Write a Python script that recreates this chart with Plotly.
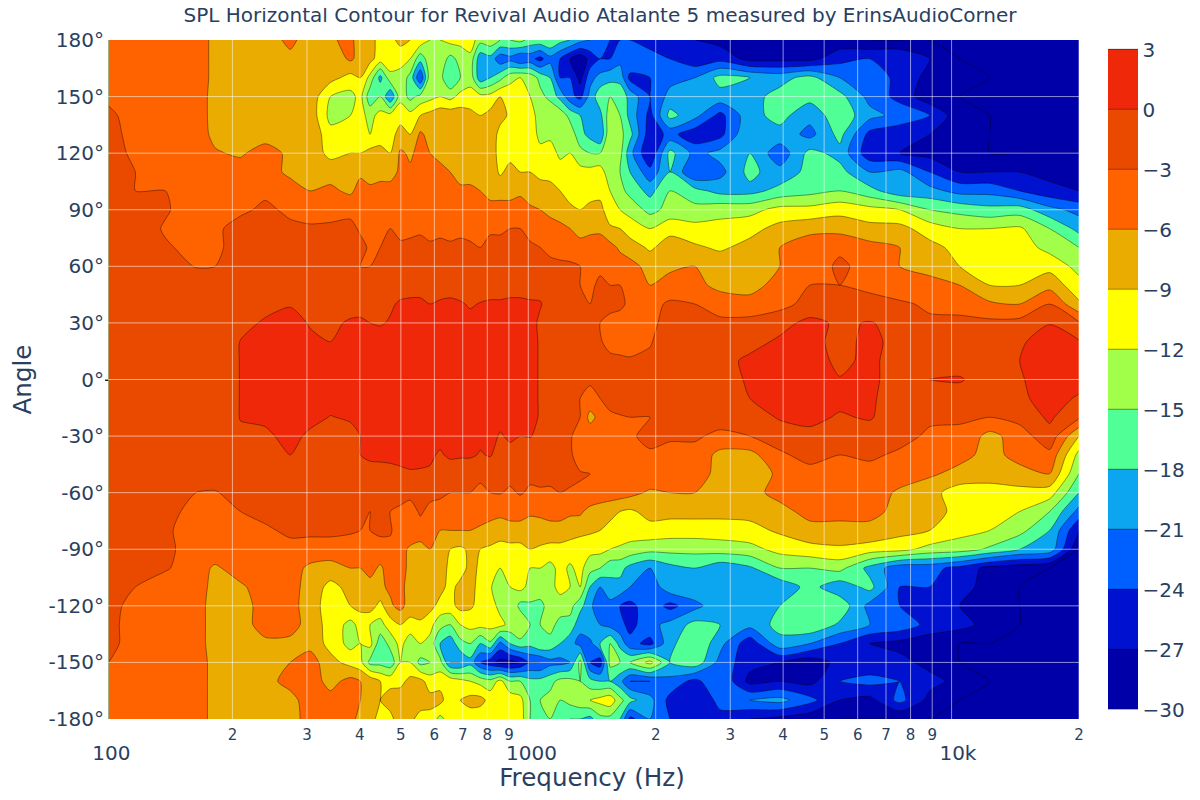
import plotly.graph_objects as go

title_text = "SPL Horizontal Contour for Revival Audio Atalante 5 measured by ErinsAudioCorner"
freq_hz = [102, 118, 139, 164, 182, 209, 239, 274, 305, 341, 380, 423, 472, 526, 586, 654, 729, 813, 906, 1010, 1126, 1255,
           1399, 1560, 1739, 1939, 2161, 2476, 2837, 3338, 3929, 4625, 5443, 6408, 7542, 8877, 10449, 12300, 14478, 17041, 20000]
freq_hz_mid = [401, 447, 499, 556, 619, 691, 770, 858, 957, 1067, 1189, 1326, 1478, 1647]
angles = [180, 170, 160, 150, 140, 130, 120, 110, 100, 90, 80, 70, 60, 50, 40, 30, 20, 10, 0,
          -10, -20, -30, -40, -50, -60, -70, -80, -90, -100, -110, -120, -130, -140, -150, -160, -170, -180]
levels = [-30, -27, -24, -21, -18, -15, -12, -9, -6, -3, 0, 3]
band_colors = ["rgb(0,0,168)", "rgb(0,18,208)", "rgb(0,95,255)", "rgb(12,165,240)", "rgb(80,255,150)", "rgb(161,255,74)",
               "rgb(255,255,0)", "rgb(234,172,0)", "rgb(255,99,0)", "rgb(234,74,0)", "rgb(240,40,10)"]
x_tick_vals = [100, 200, 300, 400, 500, 600, 700, 800, 900, 1000, 2000, 3000, 4000, 5000, 6000, 7000, 8000, 9000, 10000, 20000]
x_tick_text = ["100", "2", "3", "4", "5", "6", "7", "8", "9", "1000", "2", "3", "4", "5", "6", "7", "8", "9", "10k", "2"]
y_tick_vals = [-180, -150, -120, -90, -60, -30, 0, 30, 60, 90, 120, 150, 180]
y_tick_text = ["-180°", "-150°", "-120°", "-90°", "-60°", "-30°", "0°", "30°", "60°", "90°", "120°", "150°", "180°"]

p180 = [-4,-4,-4,-4,-7,-7,-7,-5.5,-7,-6.5,-5,-8,-10,-9,-12,-11,-10,-13,-15,-16,-15,-18, -21,-24,-24,-25,-25,-27,-28,-29,-27,-28,-29,-30,-30,-30,-30,-30,-30,-30,-30]
p170 = [-4,-4,-4,-4,-7,-8,-7,-6.5,-7,-8,-5.5,-8,-10,-12,-13,-16,-13,-19,-22,-23,-22,-27, -26,-24,-21,-23,-24,-26,-25,-28,-28,-28,-25,-24,-24,-27,-30,-30,-30,-30,-30]
p160 = [-4,-4,-4,-4,-7,-7,-7,-7,-7,-8,-10,-13,-13,-16,-13,-18,-13,-18,-13,-13,-18,-24, -22,-19,-25,-24,-22,-21,-17,-18,-19,-17,-21,-22,-25,-28,-29,-30,-30,-30,-30]
p150 = [-3.5,-4,-4,-4.5,-7,-7,-7,-7,-7,-12,-13,-17,-21,-16,-13,-13,-11,-11,-10,-12,-16,-23, -20,-15,-19,-24,-20,-18,-19,-19,-17,-17,-17,-22,-25,-29,-30,-30,-30,-30,-30]
p140 = [-2.5,-4,-4,-4.5,-7,-7,-7,-7,-7,-13,-12,-13,-11,-11,-8,-7,-8,-8,-9.5,-11,-12,-16, -19,-13,-19,-25,-17,-20,-25,-19,-17,-20,-16,-20,-22,-24,-29,-30,-30,-30,-30]
p130 = [-2,-4,-4,-5,-6.5,-7,-7,-7,-6.5,-11,-10,-12,-10,-9,-7,-6.5,-7,-7,-10,-10,-13,-13, -19,-12,-17,-26,-23,-26,-25,-18,-19,-22,-17,-25,-26,-27,-29,-30,-30,-30,-30]
p120 = [-2,-3.5,-4,-4.5,-5.8,-6.3,-5,-6.5,-7,-10,-9,-8,-9,-6.5,-6,-7,-7,-7.5,-10,-10,-10,-12, -15,-13,-20,-27,-17,-22,-20,-18,-23,-17,-19,-26,-27,-28,-29,-30,-30,-30,-30]
p110 = [-2,-3,-3.5,-4,-4.5,-5,-5,-6.5,-6,-7,-7,-7,-7,-5.5,-5.5,-6,-7,-7,-8,-9,-10,-10, -11,-14,-18,-23,-18,-24,-22,-17,-20,-17,-17,-21,-20,-24,-27,-27,-27,-28,-29]
p100 = [-1.5,-3,-3,-4,-4,-4,-3.5,-5,-6,-5.5,-6.5,-5.5,-5,-5.5,-5,-5,-5.5,-7,-7,-7.5,-8,-10, -10.5,-12,-16,-19,-15,-17,-19,-19,-17,-16,-15,-17,-20,-20,-22,-22,-24,-26,-27]
p90 = [-1.5,-2,-2.8,-4,-3.5,-3.5,-2.5,-3.5,-4.5,-4,-4,-4,-4.5,-5,-5,-5,-5,-5,-5,-5.5,-7,-8.5, -8,-11,-13,-16,-14,-14,-13,-13,-11,-11,-10,-11,-12,-15,-16,-17,-16.5,-20,-22]
p80 = [-1,-2,-3.2,-3.7,-3.5,-2,-2,-2.5,-2.5,-2.5,-2,-3.5,-3,-4,-4,-4,-4,-3.5,-3,-4,-4.5,-6, -7,-8.5,-10.5,-12,-10,-11,-11,-10,-8,-7,-7,-8,-8,-10.5,-12,-12,-11.5,-15,-19]
p70 = [-1,-1.5,-2.8,-3.5,-3.5,-2,-1.5,-1.5,-2,-2,-2,-3.5,-2.5,-2,-2.5,-2.5,-2.5,-2,-1.5,-2.5,-3.5,-4.5, -4,-5,-7.5,-9.5,-7.5,-8.5,-9.5,-8,-6,-4,-3.5,-5,-6,-8,-10,-10.5,-10.5,-13,-15]
p60 = [-1,-1,-1,-3.2,-3,-1,-1,-1,-1,-1,-2,-3,-1.5,-2,-1.5,-1.5,-1.5,-1,-1,-1.5,-2.5,-2.5, -3.5,-4,-5,-7,-6.5,-6,-7,-7,-6,-4.5,-2.5,-4,-6,-7,-9,-10,-9.5,-10,-13]
p50 = [-1,-1,-1,-1,-1,-1,-1,-1,-1,-1,-1.5,-1,-1,-1,-1,-1,-1,-1,-1,-1,-1.5,-2.8, -3.5,-3,-4.5,-6,-5,-5,-7,-7,-5,-3,-3,-3.5,-5,-5,-6,-9,-9,-7,-11]
p40 = [-1,-1,-1,-1,-1,-0.7,-0.5,-0.2,-0.7,-1,-1,-0.5,-0.3,0.5,0,0.5,-0.2,0.3,0.5,0.3,-1,-2.3, -3,-2,-3.5,-4,-2.5,-3,-4,-5,-4,-2,-2,-2.3,-2.5,-3.5,-4,-5.5,-6,-3,-8.5]
p30 = [-1,-1,-1,-1,-1,-0.5,0.2,1,-0.2,-0.5,0.3,0,0.2,1,0.8,1,0.6,0,1,1,-1,-1.5, -2.5,-4,-4,-4,-1.5,-1.5,-2.5,-2,-1,0.8,-0.5,0.2,-1,-2.5,-2.3,-2.3,-2,-0.1,-2.7]
p20 = [-1,-1,-1,-1,-1,0.05,1,1,0.5,0,1,1,1,1,1,1,1,1,1,1,-1,-1, -2,-3.7,-3.8,-3.2,-1.5,-1.5,-2,-1,0.5,1,-1,0.8,-1,-1.5,-1.5,-1.5,-0.3,1,0.3]
p10 = [-1,-1,-1,-1,-1,0.05,1,1,1,0.5,0.5,1,1,1,1,1,1,1,1,1,-1,-1, -1.5,-2.5,-2.8,-2.5,-1.5,-1.5,-1,0.6,1,1,-0.5,0.5,-1,-1,-1,-1,0,1,1]
zero = [-1,-1,-1,-1,-1,0.05,1,1,1,1,0.5,1,1,1,1,1,1,1,1,1,-1,-1.5, -2.5,-1.5,-1.5,-1,-1,-1,-1,0.3,1,1,0.1,0.5,-1,0,0.2,-1,-0.2,1,1]
m10 = [-1,-1,-1,-1,-1,0.05,1,1,1,1,0.5,1,1,1,1,1,1,1,1,1,-1,-2.5, -4,-2,-1.5,-1,-1,-1,-1,0,1,1,0.5,0.3,-1,-1,-1,-1,-0.5,1,-0.3]
m20 = [-1,-1,-1,-1,-1,0.05,0.5,1,0.8,-0.1,0.3,1,1,1,1,1,1,1,1,1,-1,-2, -7,-3.5,-3,-3,-1.5,-2,-2,-1.5,0.3,0.5,-0.2,0.2,-1.3,-2.5,-2.7,-3,-2,0.5,-2.5]
m30 = [-1,-1,-1,-1,-1,-0.2,-0.5,0.8,-0.5,-1,-0.8,0.6,1,1,1,1,1,1,0.5,0.1,-1,-2.5, -4,-3.5,-3.5,-2,-2.7,-2.7,-3.5,-3,-1.5,-0.5,-1.5,-1,-2,-3.5,-3.5,-7,-4.5,-1,-9]
m40 = [-1.2,-1.2,-1.2,-1.2,-1.2,-1,-0.1,0,-0.2,-1,-0.5,0.5,0.8,1,0.5,0.6,0.4,0.2,-1,-1.2,-1,-2, -4,-4,-3.8,-3.5,-3.7,-3.7,-7,-7,-3.5,-2,-3,-2.5,-3.5,-4,-5,-7,-5,-3.8,-13]
m50 = [-1.5,-1.5,-1.5,-1.5,-1.5,-1.5,-1,-1,-1,-1,-1,-1,-1,-0.3,-0.4,-2,-2,-2,-2,-2.3,-2,-1.8, -3,-4,-3.8,-3.7,-4,-4.5,-7,-7.5,-5.5,-4,-3.7,-4,-4.5,-5.5,-7,-7.5,-7,-6,-15]
m60 = [-1.5,-1.5,-1.5,-3,-3.2,-2,-1.5,-1.5,-1.5,-1.5,-1.5,-2,-2,-2,-2,-3,-3,-3,-3.5,-3.5,-3.5,-3.5, -3.5,-4,-5,-6.5,-6,-6,-7,-7,-5,-4,-4,-4.5,-6.5,-8,-10.5,-10.5,-10,-10.5,-18]
m70 = [-1.5,-1.5,-2,-4,-3.5,-3,-1.5,-2,-2,-2,-1.7,-3,-3,-4.5,-4,-4,-4,-5,-5,-5.5,-5,-5.5, -7,-8.5,-9.5,-8,-8,-8,-8,-8,-7,-5,-5,-5.5,-6.5,-7,-10.5,-10.5,-12,-15,-22]
m80 = [-1.5,-1.5,-2.5,-4.5,-4,-4,-3.8,-2,-2.2,-2.2,-2.5,-3,-2.8,-4,-5.5,-6,-6,-7,-7,-7.5,-7,-7.5, -8.5,-9.5,-10.5,-10,-10.5,-10.5,-10.5,-10,-8.5,-7,-7,-6.5,-8,-9,-11,-12,-14,-18,-27]
m90 = [-1.2,-1.5,-2.5,-4,-4,-4,-3.5,-4.5,-4.5,-4.5,-5,-4.5,-3.5,-6.5,-6,-9,-8.5,-9.5,-10,-9,-10,-10.5, -11,-12,-13,-14,-14,-14,-13.5,-13,-11,-10,-9.5,-10.5,-11,-13,-13.5,-15.5,-18,-19,-30]
m100 = [-1,-1.5,-2.7,-4.5,-6.5,-4.5,-3.5,-5,-6.5,-7,-6,-5,-4.5,-7,-6.5,-10,-8,-11,-11,-12,-13,-12.5, -14,-17,-19,-21,-19,-18,-20,-18.5,-15,-15,-14,-19,-23,-23,-25,-28,-29,-30,-30]
m110 = [-1,-3,-4.5,-4.5,-7,-6.5,-4.5,-5,-7,-10,-8,-7,-5.5,-7.5,-7,-10,-8,-11.5,-12,-13,-13,-12, -18,-19,-21,-23,-19,-18.5,-20,-20,-20,-17,-20,-17,-24,-24,-26,-28,-30,-30,-30]
m120 = [-2,-4,-4.5,-5,-7,-7,-5,-4.5,-8,-10,-9,-7.5,-6.5,-7.5,-8,-10,-8.5,-10.5,-12,-15.5,-13.5,-14, -20,-22,-25,-22,-25,-22,-19,-18.5,-18,-15.5,-16,-22,-24,-25,-27,-28,-30,-30,-30]
m130 = [-2,-4.5,-4.5,-5,-7,-7,-5,-4.5,-7.5,-10,-13,-12,-10.5,-10,-11,-15,-11,-11,-13,-15,-14,-16, -18,-22,-25,-22,-20,-17,-18,-20,-17,-15.5,-18.5,-21,-22,-25,-26,-28,-30,-30,-30]
m140 = [-2,-4.5,-4.5,-5,-7,-7,-6.5,-7,-7,-10,-13,-11,-14,-14,-13,-20,-15,-15.5,-18,-17,-16,-20, -22,-15,-23,-25,-19,-15,-20,-26,-19,-21,-24,-27,-28,-29,-30,-30,-30,-30,-30]
m150 = [-3,-4.5,-4.5,-4.5,-7,-7,-6,-6,-4.5,-8,-10,-16,-17,-12,-15,-21,-19,-26,-28,-24,-22,-21, -24,-14,-15,-11,-18,-16,-22,-26,-27,-29,-26,-26,-26,-28,-30,-30,-30,-30,-30]
m160 = [-4,-4,-4,-4.5,-7,-8,-7,-5,-4.5,-7,-5,-7,-10,-8,-10.5,-10,-12,-14,-15,-17,-16,-14, -17,-18,-24,-24,-22,-25,-21,-28,-27,-28,-24,-23,-24,-26,-28,-30,-30,-30,-30]
m170 = [-4,-4,-4,-4.5,-7,-7,-7,-7,-4.5,-5,-5,-8,-7.5,-7,-8,-11,-8,-10,-10,-15,-14,-14, -12,-10,-17,-20,-25,-27,-23,-21,-20,-23,-27,-28,-23,-28,-30,-30,-30,-30,-30]
m180 = [-4,-4,-4,-4.5,-7,-7,-7,-7.5,-4.5,-5.5,-5,-8,-10,-8,-10,-10.5,-10.5,-11,-11,-15,-15,-18, -19,-16,-25,-21,-24,-25,-25,-27,-28,-29,-30,-30,-30,-30,-30,-30,-30,-30,-30]

# values at the in-between frequencies of freq_hz_mid, one list per angle
p180b = [-8,-10,-8,-10,-12,-11,-14,-15,-14,-16,-17,-20,-22,-24]
p170b = [-7,-10.5,-11,-17,-13,-14,-20,-23,-24,-25,-24,-29,-24,-22]
p160b = [-9,-19,-13,-24,-14,-15,-20,-16,-12,-16,-24,-28,-20,-19]
p150b = [-11,-15,-13,-14,-12,-11,-11,-9,-11,-14,-19,-25,-16,-16]
p140b = [-11,-11,-10,-9,-7,-7.5,-9,-8,-10.5,-13,-13,-18,-19,-15]
p130b = [-11,-10.5,-8,-5.5,-7,-7,-8,-10,-10,-13,-13.5,-17,-21,-14]
p120b = [-9,-8,-5.5,-5,-7,-7,-7.5,-10,-10,-11,-13,-14,-15,-14]
p110b = [-6.5,-7,-5.5,-5,-5,-7,-7.5,-9.5,-9,-10,-10,-11,-10.5,-15]
p100b = [-5,-5,-6,-5,-5,-5.5,-6,-7,-6.5,-7.5,-9,-10.5,-10,-14]
p90b = [-4.5,-3.7,-4.5,-5,-5,-5,-5.5,-5,-4.8,-6,-8,-9,-8,-12]
p80b = [-3.5,-3,-3.8,-3.5,-3.5,-3.5,-3,-3.5,-3,-4.5,-5,-7,-7,-9]
p70b = [-2,-3,-2.5,-2,-2.5,-2.5,-3,-2,-1.5,-3,-4,-5,-3.5,-6.5]
p60b = [-3,-1.5,-2.5,-1.5,-1.5,-1.5,-2,-1,-1,-2,-2.5,-3,-3.5,-4.5]
p50b = [-1,-1,-1,-1,-1,-1,-1,-1,-1,-1,-2,-3,-2.5,-3]
p40b = [-0.7,-0.7,0.3,0.5,0.3,0.2,0.1,0.3,0.5,0.2,-1.5,-2.5,-1.5,-2.5]
p30b = [0.3,-0.2,0.5,1,0.4,0.9,0.3,0.8,1,-0.5,-1,-2,-3,-4]
p20b = [1,1,1,1,1,1,1,1,1,-0.3,-1,-1.5,-2.8,-3.7]
p10b = [1,1,1,1,1,1,1,1,1,-0.3,-1,-1,-2,-2.7]
zerob = [1,1,1,1,1,1,1,1,1,-0.3,-1,-2,-2,-1.5]
m10b = [1,1,1,1,1,1,1,1,1,-0.3,-1.5,-3,-3,-1.7]
m20b = [0.5,1,1,1,1,1,1,1,1,-0.3,-1.5,-3,-5,-3.2]
m30b = [0,0.8,1,1,1,1,0.6,-0.3,0,-0.5,-1.7,-5,-3.7,-3.5]
m40b = [0,0.6,0.9,0.5,-0.4,0.4,-0.2,-1,-1,-1,-1.5,-6,-4.5,-3.8]
m50b = [-1,-1,-0.6,-0.2,-1.5,-2,-2.5,-2,-2,-2.5,-2,-2.5,-3.5,-4]
m60b = [-1.5,-1.8,-2,-2,-2.5,-3,-3.5,-2.8,-2.7,-3.2,-3,-3.8,-3.5,-4.5]
m70b = [-2,-1.5,-3.5,-2.5,-4,-4,-4.5,-5.5,-5,-5.5,-5,-5.5,-8,-9]
m80b = [-3,-2.5,-4,-4.5,-6,-6,-6.5,-7,-7,-7,-7,-8,-9,-10]
m90b = [-5,-4,-5,-7,-6.5,-9.5,-9,-10.5,-10,-9.5,-10,-11,-11,-12.5]
m100b = [-6,-6.5,-4.5,-6.5,-7,-10.5,-9.5,-12,-11,-12,-11,-11,-15,-17]
m110b = [-7,-6.5,-5,-8,-8,-8,-10,-15,-11,-13,-11,-12,-21,-19]
m120b = [-8,-10,-5,-7.5,-10,-8,-10,-13,-16,-16,-13.5,-17,-24,-24]
m130b = [-11,-13,-9,-9.5,-14,-12,-11,-11,-12,-15,-16,-20,-21,-23]
m140b = [-12,-17,-11,-12,-18,-16,-18,-22,-16,-15,-18,-22,-18,-19]
m150b = [-11,-16,-12,-16,-14,-21,-24,-28,-27,-24,-22,-14,-26,-15]
m160b = [-6,-9,-10,-8,-10,-11,-13,-11,-15,-17,-14,-15,-18,-20]
m170b = [-6,-9,-7,-7,-8,-9,-8,-10,-11,-15,-15,-13,-11,-14]
m180b = [-7,-10,-7,-10.5,-13,-10,-11,-11,-10.5,-15,-17,-18,-16,-18]

coarse = [p180, p170, p160, p150, p140, p130, p120, p110, p100, p90, p80, p70, p60, p50, p40, p30, p20, p10, zero,
          m10, m20, m30, m40, m50, m60, m70, m80, m90, m100, m110, m120, m130, m140, m150, m160, m170, m180]
between = [p180b, p170b, p160b, p150b, p140b, p130b, p120b, p110b, p100b, p90b, p80b, p70b, p60b, p50b, p40b, p30b, p20b, p10b, zerob,
           m10b, m20b, m30b, m40b, m50b, m60b, m70b, m80b, m90b, m100b, m110b, m120b, m130b, m140b, m150b, m160b, m170b, m180b]

all_freq = freq_hz + freq_hz_mid
order = sorted(range(len(all_freq)), key=lambda i: all_freq[i])
x_freq = [all_freq[i] for i in order]
spl = []
for a, b in zip(coarse, between):
    assert len(a) == len(freq_hz) and len(b) == len(freq_hz_mid), (a, b)
    row = a + b
    spl.append([row[i] for i in order])

n = len(band_colors)
colorscale = []
for i, c in enumerate(band_colors):
    colorscale += [[i / n, c], [(i + 1) / n, c]]

FONT = "DejaVu Sans"
INK = "#2a3f5f"

fig = go.Figure(go.Contour(
    x=x_freq, y=angles, z=spl,
    zmin=levels[0], zmax=levels[-1], autocontour=False,
    contours=dict(start=levels[0], end=levels[-1], size=levels[1] - levels[0], coloring="fill"),
    colorscale=colorscale,
    line=dict(width=0.5, color="rgba(0,0,0,0.8)", smoothing=0.7),
    colorbar=dict(dtick=3, tick0=-30, x=1.0298, xanchor="left", xpad=0, ypad=0, thickness=30,
                  len=660 / 679, y=0.5, yanchor="middle", outlinewidth=0,
                  tickfont=dict(size=20, family=FONT, color=INK)),
    hoverinfo="skip",
))

grid_x = x_tick_vals[1:]
grid_y = y_tick_vals[1:-1]
GRID = dict(color="rgba(255,255,255,0.55)", width=1)
shapes = [dict(type="line", xref="x", yref="paper", x0=v, x1=v, y0=0, y1=1, line=GRID, layer="above") for v in grid_x]
shapes += [dict(type="line", xref="paper", yref="y", x0=0, x1=1, y0=v, y1=v, line=GRID, layer="above") for v in grid_y]

major_pad = {"100": "\u00a0\u00a0", "1000": "\u00a0", "10k": "\u00a0\u00a0"}
labels = [t if len(t) == 1 else "<br><span style='font-size:20px'>%s%s</span>" % (major_pad[t], t) for t in x_tick_text]

fig.update_layout(
    width=1184, height=784,
    margin=dict(l=96.5, r=113, t=32, b=73),
    paper_bgcolor="white", plot_bgcolor="white",
    font=dict(family=FONT, color=INK),
    title=dict(text=title_text, x=0.5, xanchor="center", y=0.991, yanchor="middle", automargin=False,
               font=dict(size=20, family=FONT, color=INK)),
    xaxis=dict(type="log", range=[2, 4.30103], tickmode="array", tickvals=x_tick_vals, ticktext=labels, tickangle=0,
               automargin=False, showgrid=False, zeroline=False, showline=False,
               ticks="outside", ticklen=2, tickcolor="rgba(0,0,0,0)",
               title=dict(text="Frequency (Hz)", font=dict(size=24.6, family=FONT, color=INK), standoff=60),
               tickfont=dict(size=15, family=FONT, color=INK)),
    yaxis=dict(range=[-180, 180], tickmode="array", tickvals=y_tick_vals, ticktext=y_tick_text, showgrid=False,
               automargin=False, zeroline=True, zerolinecolor="#222222", zerolinewidth=2, showline=False,
               title=dict(text="Angle", font=dict(size=24.6, family=FONT, color=INK), standoff=60),
               tickfont=dict(size=20, family=FONT, color=INK)),
    shapes=shapes,
)

fig.write_html("out.html")
